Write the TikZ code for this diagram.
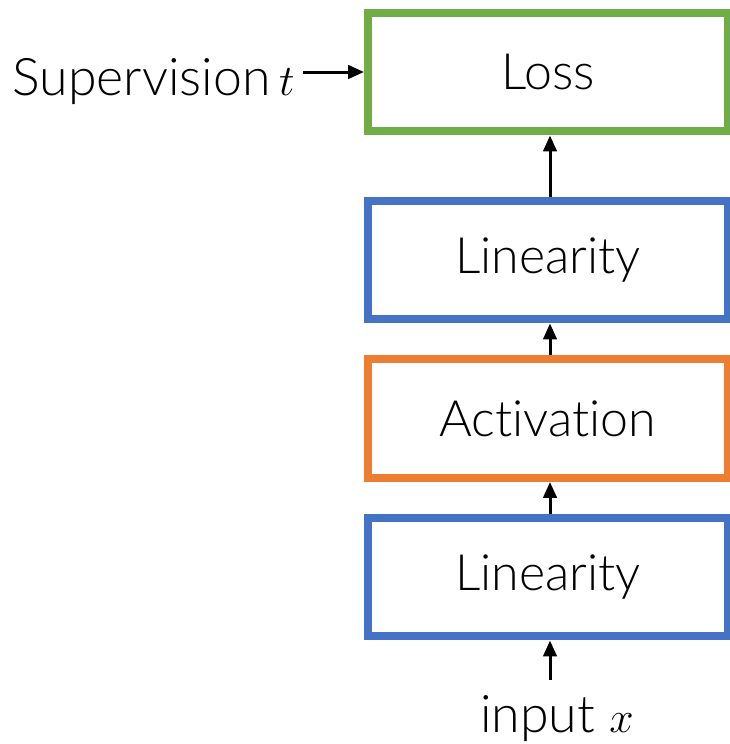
\documentclass[tikz,border=0pt]{standalone}
\usepackage{fontspec}
\setmainfont{Lato}[UprightFont=* Light, Ligatures=NoCommon]
\usetikzlibrary{arrows.meta}
\definecolor{lossgreen}{HTML}{70AD47}
\definecolor{layerblue}{HTML}{4472C4}
\definecolor{actorange}{HTML}{ED7D31}
\begin{document}
\begin{tikzpicture}[x=0.02cm, y=-0.02cm,
    layer/.style={draw, line width=0.16cm, minimum width=7.2cm, minimum height=2.38cm,
                  inner sep=0pt, fill=white, font=\fontsize{28.5}{32}\selectfont},
    lbl/.style={inner sep=0pt, font=\fontsize{29.5}{32}\selectfont},
    flow/.style={-{Triangle[length=0.32cm, width=0.27cm]}, line width=0.06cm},
   ]
    \useasboundingbox (0,0) rectangle (730,744);
    % the four stacked blocks
    \node[layer, draw=lossgreen]  (loss) at (548,72)    {Loss};
    \node[layer, draw=layerblue]  (lint) at (548,260)   {Linearity};
    \node[layer, draw=actorange]  (act)  at (548,418.5) {Activation};
    \node[layer, draw=layerblue]  (linb) at (548,577)   {Linearity};
    % outside labels
    \node[lbl, anchor=base east] (sup) at (295,95)  {Supervision\,$t$};
    \node[lbl, anchor=base]      (inp) at (557,732) {input\;$x$};
    % arrows
    \draw[flow] ([xshift=0.16cm]sup.east |- loss.west) -- (loss.west);
    \draw[flow] ([xshift=0.04cm]lint.north) -- ([xshift=0.04cm]loss.south);
    \draw[flow] ([xshift=0.04cm]act.north)  -- ([xshift=0.04cm]lint.south);
    \draw[flow] ([xshift=0.04cm]linb.north) -- ([xshift=0.04cm]act.south);
    \draw[flow] ([xshift=0.04cm, yshift=0.3cm]inp.north -| linb.south) -- ([xshift=0.04cm]linb.south);
\end{tikzpicture}
\end{document}
